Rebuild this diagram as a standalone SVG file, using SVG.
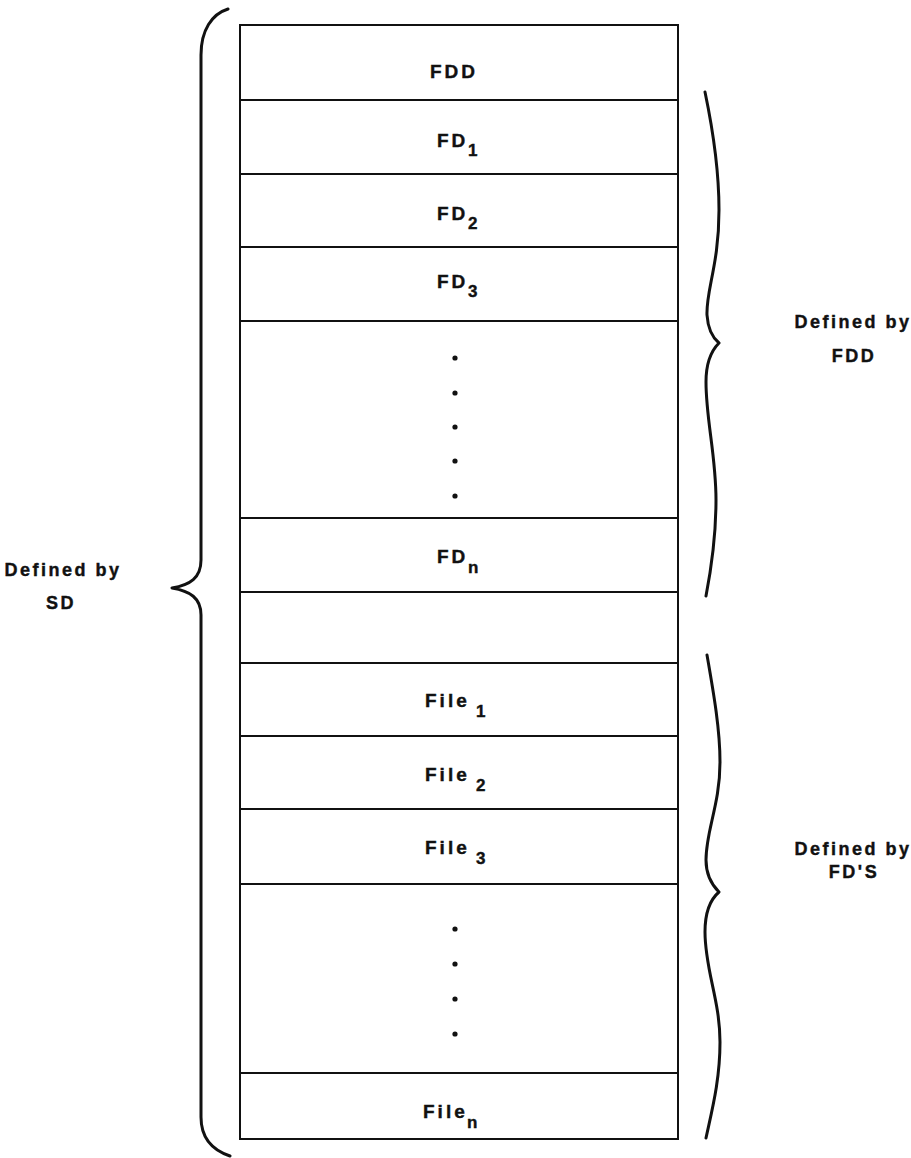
<svg xmlns="http://www.w3.org/2000/svg" width="911" height="1158" viewBox="0 0 911 1158">
<style>
.box{fill:#fff;stroke:#111;stroke-width:2}
.sep{stroke:#111;stroke-width:2}
.t{font-family:"Liberation Sans",Arial,sans-serif;font-weight:bold;font-size:19px;letter-spacing:3px;fill:#111;stroke:#111;stroke-width:0.4}
.s{font-size:17px;letter-spacing:0}
.lbl{font-family:"Liberation Sans",Arial,sans-serif;font-weight:bold;font-size:18px;letter-spacing:2.5px;fill:#111;stroke:#111;stroke-width:0.4;text-anchor:middle}
.brace{fill:none;stroke:#111;stroke-width:3;stroke-linecap:round;stroke-linejoin:round}
.dot{fill:#111}
</style>
<rect width="911" height="1158" fill="#fff"/>
<g id="stack">
<rect class="box" x="240" y="25" width="438" height="1114"/>
<line class="sep" x1="240" y1="100" x2="678" y2="100"/>
<line class="sep" x1="240" y1="174" x2="678" y2="174"/>
<line class="sep" x1="240" y1="247" x2="678" y2="247"/>
<line class="sep" x1="240" y1="321" x2="678" y2="321"/>
<line class="sep" x1="240" y1="518" x2="678" y2="518"/>
<line class="sep" x1="240" y1="592" x2="678" y2="592"/>
<line class="sep" x1="240" y1="663" x2="678" y2="663"/>
<line class="sep" x1="240" y1="736" x2="678" y2="736"/>
<line class="sep" x1="240" y1="809" x2="678" y2="809"/>
<line class="sep" x1="240" y1="884" x2="678" y2="884"/>
<line class="sep" x1="240" y1="1073" x2="678" y2="1073"/>
</g>
<g id="row-fdd"><text class="t" x="430" y="78">FDD</text></g>
<g id="row-fd1"><text class="t" x="437" y="147">FD<tspan class="s" x="468" dy="9">1</tspan></text></g>
<g id="row-fd2"><text class="t" x="437" y="220">FD<tspan class="s" x="468" dy="9">2</tspan></text></g>
<g id="row-fd3"><text class="t" x="437" y="288">FD<tspan class="s" x="468" dy="9">3</tspan></text></g>
<g id="row-fddots">
<circle class="dot" cx="455" cy="358" r="2.6"/>
<circle class="dot" cx="455" cy="393" r="2.6"/>
<circle class="dot" cx="455" cy="427" r="2.6"/>
<circle class="dot" cx="455" cy="461" r="2.6"/>
<circle class="dot" cx="455" cy="496" r="2.6"/>
</g>
<g id="row-fdn"><text class="t" x="437" y="563">FD<tspan class="s" x="468" dy="10">n</tspan></text></g>
<g id="row-empty"></g>
<g id="row-file1"><text class="t" x="425" y="707">File<tspan class="s" x="476" dy="10">1</tspan></text></g>
<g id="row-file2"><text class="t" x="425" y="781">File<tspan class="s" x="476" dy="10">2</tspan></text></g>
<g id="row-file3"><text class="t" x="425" y="854">File<tspan class="s" x="476" dy="10">3</tspan></text></g>
<g id="row-filedots">
<circle class="dot" cx="455" cy="929" r="2.6"/>
<circle class="dot" cx="455" cy="964" r="2.6"/>
<circle class="dot" cx="455" cy="999" r="2.6"/>
<circle class="dot" cx="455" cy="1034" r="2.6"/>
</g>
<g id="row-filen"><text class="t" x="423" y="1118">File<tspan class="s" x="467" dy="10">n</tspan></text></g>
<g id="connectors">
<path class="brace" d="M228,9 C212,14 201,30 201,55 L201,560 C201,578 190,585 172,588 C190,591 201,598 201,615 L201,1117 C201,1138 212,1150 230,1156"/>
<path class="brace" d="M705,92 C714,135 719,175 719,210 C719,265 706,290 707,315 C708,330 713,338 719,343 C712,350 706,362 706,382 C706,420 716,455 716,500 C716,540 711,570 706,596"/>
<path class="brace" d="M707,655 C714,695 720,730 720,762 C720,805 706,830 706,860 C706,875 713,886 719,892 C712,898 705,910 705,932 C705,970 720,1000 720,1042 C720,1080 712,1110 706,1138"/>
</g>
<g id="label-sd">
<text class="lbl" x="63" y="576">Defined by</text>
<text class="lbl" x="61" y="609">SD</text>
</g>
<g id="label-fdd">
<text class="lbl" x="853" y="328">Defined by</text>
<text class="lbl" x="854" y="362">FDD</text>
</g>
<g id="label-fds">
<text class="lbl" x="853" y="855">Defined by</text>
<text class="lbl" x="854" y="878">FD'S</text>
</g>
</svg>
